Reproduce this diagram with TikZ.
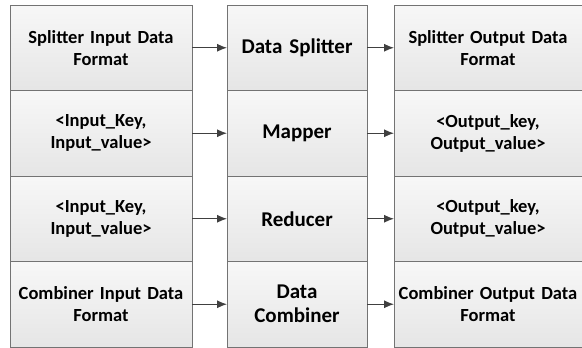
\documentclass[tikz,border=0pt]{standalone}
\usepackage{fontspec}
\setmainfont{Carlito}
\usepackage{tikz}
\usetikzlibrary{arrows.meta}

\tikzset{
	cell/.style={draw=black!55, line width=0.9pt, top color=white!97!black, bottom color=white!90!black,
		minimum height=85.5pt, inner sep=2pt, outer sep=0pt, align=center, font=\bfseries\fontsize{18.5}{22}\selectfont},
	incell/.style={cell, minimum width=182pt, text width=178pt},
	midcell/.style={cell, minimum width=140pt, text width=136pt, font=\bfseries\fontsize{21}{24}\selectfont},
	outcell/.style={cell, minimum width=186pt, text width=184pt},
	flow/.style={draw=black!75, line width=1pt, -{Latex[length=10pt,width=8pt]}}
}

\begin{document}
\begin{tikzpicture}[x=1pt, y=-1pt]
	\useasboundingbox (0,0) rectangle (582,348);
	\node (in1) at (101, 47.75) [incell] {Splitter Input Data\\Format};
	\node (in2) at (101, 133.25) [incell] {<Input\_Key,\\Input\_value>};
	\node (in3) at (101, 218.75) [incell] {<Input\_Key,\\Input\_value>};
	\node (in4) at (101, 304.25) [incell] {Combiner Input Data\\Format};
		\node (split) at (297, 47.75) [midcell] {Data Splitter};
		\node (map) at (297, 133.25) [midcell] {Mapper};
		\node (reduce) at (297, 218.75) [midcell] {Reducer};
		\node (combine) at (297, 304.25) [midcell] {Data\\Combiner};
			\node (out1) at (488, 47.75) [outcell] {Splitter Output Data\\Format};
			\node (out2) at (488, 133.25) [outcell] {<Output\_key,\\Output\_value>};
			\node (out3) at (488, 218.75) [outcell] {<Output\_key,\\Output\_value>};
			\node (out4) at (488, 304.25) [outcell] {Combiner Output Data\\Format};
	\draw[flow] (in1) to (split);
	\draw[flow] (in2) to (map);
	\draw[flow] (in3) to (reduce);
	\draw[flow] (in4) to (combine);
	\draw[flow] (split) to (out1);
	\draw[flow] (map) to (out2);
	\draw[flow] (reduce) to (out3);
	\draw[flow] (combine) to (out4);
\end{tikzpicture}
\end{document}
